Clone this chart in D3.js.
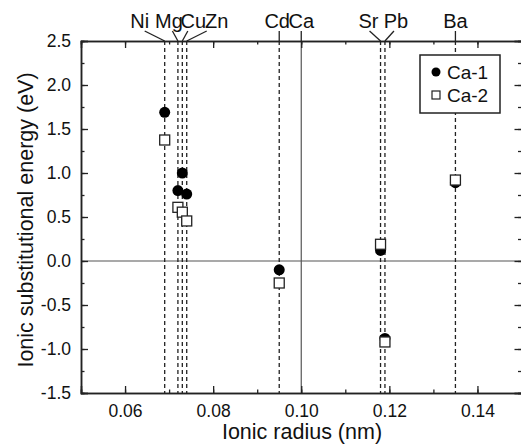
<!DOCTYPE html>
<html><head><meta charset="utf-8">
<script src="https://cdn.jsdelivr.net/npm/d3@7"></script>
<style>body{margin:0;background:#fff}svg{display:block;font-family:"Liberation Sans",Arial,sans-serif}</style>
</head><body><svg id="c" width="521" height="446"></svg>
<script>
// ---- data ----
const ions = ["Ni","Mg","Cu","Zn","Cd","Ca","Sr","Pb","Ba"];
const radii = [0.069,0.072,0.073,0.074,0.095,0.100,0.118,0.119,0.135];
const ca1 = [1.69,0.80,1.00,0.76,-0.10,null,0.12,-0.88,0.89];
const ca2 = [1.375,0.61,0.555,0.455,-0.25,null,0.19,-0.92,0.92];
const seriesNames = ["Ca-1","Ca-2"];
const xTicks = [0.06,0.08,0.10,0.12,0.14];
const yTicks = [-1.5,-1.0,-0.5,0.0,0.5,1.0,1.5,2.0,2.5];

// ---- layout (pixels) ----
const labelDx = [-25,-9,11,30,-2,0,-12,11,0];
const leaderDx = [-20,-5.5,5.5,20,0,0,-11,9,0];

const svg = d3.select("#c");
const L=81, R=521.5, T=41, B=393;
const x = d3.scaleLinear().domain([0.05,0.15]).range([L,R]);
const y = d3.scaleLinear().domain([-1.5,2.5]).range([B,T]);
const ink="#222";
const hy = f => v => f(v).replace("\u2212","-");

// reference lines
svg.append("line").attr("x1",L).attr("x2",R).attr("y1",y(0)).attr("y2",y(0)).attr("stroke","#555").attr("stroke-width",1.2);
ions.forEach((n,i)=>{
  const solid = n==="Ca";
  svg.append("line").attr("x1",x(radii[i])).attr("x2",x(radii[i])).attr("y1",T).attr("y2",B)
    .attr("stroke",solid?"#555":ink).attr("stroke-width",solid?1.2:1.3)
    .attr("stroke-dasharray",solid?null:"4,3");
  const lx = x(radii[i]);
  svg.append("line").attr("x1",lx+leaderDx[i]).attr("y1",31).attr("x2",lx).attr("y2",T)
    .attr("stroke",ink).attr("stroke-width",1.3);
  svg.append("text").attr("x",lx+labelDx[i]).attr("y",28).attr("text-anchor","middle")
    .attr("font-size",20).attr("fill","#111").text(n);
});

// axes
function axisStyle(g){g.select(".domain").attr("stroke",ink).attr("stroke-width",1.5);g.selectAll(".tick line").attr("stroke",ink).attr("stroke-width",1.3);}
const xMinor = d3.range(0.05,0.1501,0.01).map(v=>+v.toFixed(2));
const yMinor = d3.range(-1.5,2.501,0.25).map(v=>+v.toFixed(2));
svg.append("g").attr("transform",`translate(0,${B})`).call(d3.axisBottom(x).tickValues(xMinor).tickSize(-3.5).tickFormat("")).call(axisStyle);
svg.append("g").attr("transform",`translate(0,${B})`).call(d3.axisBottom(x).tickValues(xTicks).tickSize(-7).tickPadding(12).tickFormat(d3.format(".2f"))).call(axisStyle)
  .selectAll("text").attr("font-size",17.5).attr("fill","#111").attr("dy","0.71em");
svg.append("g").attr("transform",`translate(0,${T})`).call(d3.axisTop(x).tickValues(xMinor).tickSize(-3.5).tickFormat("")).call(axisStyle);
svg.append("g").attr("transform",`translate(0,${T})`).call(d3.axisTop(x).tickValues(xTicks).tickSize(-7).tickFormat("")).call(axisStyle);
svg.append("g").attr("transform",`translate(${L},0)`).call(d3.axisLeft(y).tickValues(yMinor).tickSize(-3.5).tickFormat("")).call(axisStyle);
svg.append("g").attr("transform",`translate(${L},0)`).call(d3.axisLeft(y).tickValues(yTicks).tickSize(-7).tickPadding(10).tickFormat(hy(d3.format(".1f")))).call(axisStyle)
  .selectAll("text").attr("font-size",17.5).attr("fill","#111");
svg.append("g").attr("transform",`translate(${R},0)`).call(d3.axisRight(y).tickValues(yMinor).tickSize(-3.5).tickFormat("")).call(axisStyle);
svg.append("g").attr("transform",`translate(${R},0)`).call(d3.axisRight(y).tickValues(yTicks).tickSize(-7).tickFormat("")).call(axisStyle);

// points
ions.forEach((n,i)=>{
  if(ca1[i]!==null) svg.append("circle").attr("cx",x(radii[i])).attr("cy",y(ca1[i])).attr("r",5.5).attr("fill","#000");
});
ions.forEach((n,i)=>{
  if(ca2[i]!==null) svg.append("rect").attr("x",x(radii[i])-5).attr("y",y(ca2[i])-5).attr("width",10).attr("height",10)
    .attr("fill","#fff").attr("stroke","#222").attr("stroke-width",1.3);
});

// legend
const lg = svg.append("g");
lg.append("rect").attr("x",420).attr("y",55).attr("width",80).attr("height",58).attr("fill","#fff").attr("stroke",ink).attr("stroke-width",1.5);
lg.append("circle").attr("cx",436).attr("cy",72).attr("r",4.5).attr("fill","#000");
lg.append("rect").attr("x",432).attr("y",91).attr("width",8).attr("height",8).attr("fill","#fff").attr("stroke","#222").attr("stroke-width",1.2);
lg.append("text").attr("x",447).attr("y",79).attr("font-size",19).attr("fill","#111").text(seriesNames[0]);
lg.append("text").attr("x",447).attr("y",102).attr("font-size",19).attr("fill","#111").text(seriesNames[1]);

// titles
svg.append("text").attr("x",302).attr("y",439).attr("text-anchor","middle").attr("font-size",21.5).attr("fill","#111").text("Ionic radius (nm)");
svg.append("text").attr("transform",`translate(33,220) rotate(-90)`).attr("text-anchor","middle").attr("font-size",21.5).attr("fill","#111").text("Ionic substitutional energy (eV)");
</script></body></html>
